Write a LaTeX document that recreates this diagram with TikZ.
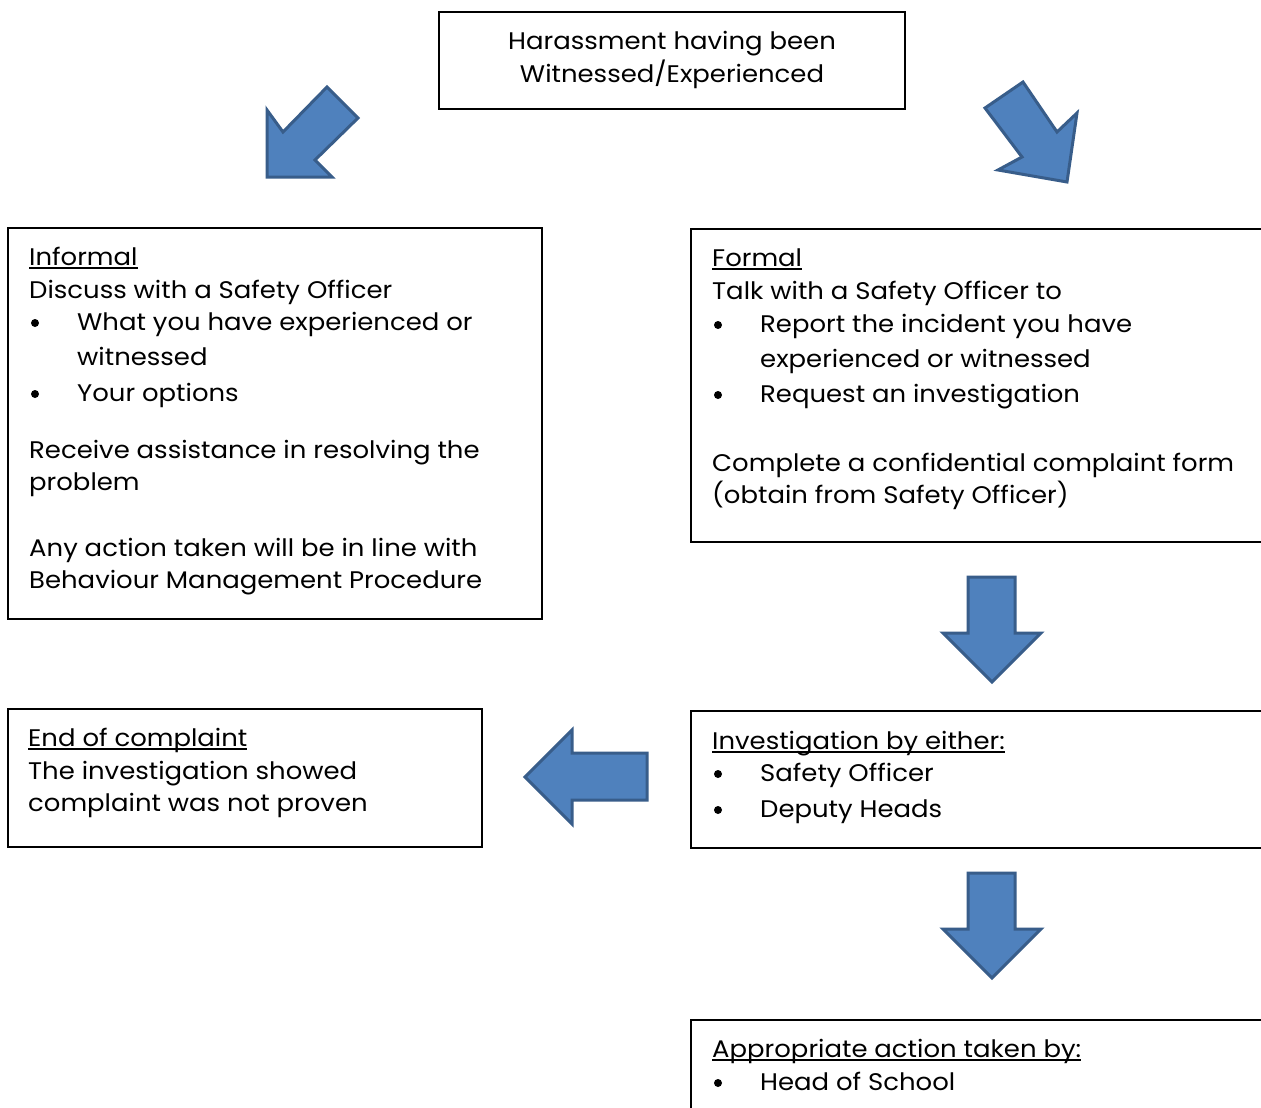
\documentclass[tikz,border=0pt]{standalone}
\usepackage{fontspec}
\setmainfont[FakeStretch=1.08]{Poppins}
\definecolor{arrowfill}{HTML}{4F81BD}
\definecolor{arrowline}{HTML}{385D8A}
\newcommand\ul[1]{\setbox0\hbox{#1}\rlap{\rule[-3.5pt]{\wd0}{1.3pt}}\box0}
\begin{document}
\begin{tikzpicture}[
	x=1pt, y=-1pt,
	font=\fontsize{24}{28}\selectfont,
	box/.style={draw=black, line width=1.2pt},
	ln/.style={anchor=base west, inner sep=0pt},
	mid/.style={anchor=base, inner sep=0pt},
	dot/.style={circle, fill=black, inner sep=0pt, minimum size=8pt},
	blk/.style={fill=arrowfill, draw=arrowline, line width=3pt, line join=miter},
	]
\path [use as bounding box, clip] (0,0) rectangle (1261,1108);
\fill [white] (0,0) rectangle (1261,1108);
% boxes
\draw [box] (439,12) rectangle (905,109);
\draw [box] (8,228) rectangle (542,619);
\draw [box] (691,229) rectangle (1290,542);
\draw [box] (8,709) rectangle (482,847);
\draw [box] (691,711) rectangle (1290,848);
\draw [box] (691,1020) rectangle (1290,1130);
% block arrows
\draw [blk] (267,110) -- (283,132) -- (327,87) -- (358,118) -- (315,160) -- (332,177) -- (267,177) -- cycle;
\draw [blk] (985,108) -- (1023,82) -- (1057,132) -- (1077,113) -- (1067,182) -- (998,170) -- (1022,157) -- cycle;
\draw [blk] (968,577) -- (1015,577) -- (1015,633) -- (1041,633) -- (992,682) -- (943,633) -- (968,633) -- cycle;
\draw [blk] (968,873) -- (1015,873) -- (1015,929) -- (1041,929) -- (992,978) -- (943,929) -- (968,929) -- cycle;
\draw [blk] (647,753) -- (572,753) -- (572,730) -- (525,777) -- (572,824) -- (572,800) -- (647,800) -- cycle;
% top
\node [mid] (top1) at (672,49) {Harassment having been};
\node [mid] (top2) at (672,82) {Witnessed/Experienced};
% informal
\node [ln] (inf1) at (29,265) {\ul{Informal}};
\node [ln] (inf2) at (29,298) {Discuss with a Safety Officer};
\node [dot] (infb1) at (35,323) {};
\node [ln] (inf3) at (77,330) {What you have experienced or};
\node [ln] (inf4) at (77,365) {witnessed};
\node [dot] (infb2) at (35,394) {};
\node [ln] (inf5) at (77,401) {Your options};
\node [ln] (inf6) at (29,458) {Receive assistance in resolving the};
\node [ln] (inf7) at (29,490) {problem};
\node [ln] (inf8) at (29,556) {Any action taken will be in line with};
\node [ln] (inf9) at (29,588) {Behaviour Management Procedure};
% formal
\node [ln] (frm1) at (712,266) {\ul{Formal}};
\node [ln] (frm2) at (712,299) {Talk with a Safety Officer to};
\node [dot] (frmb1) at (718,325) {};
\node [ln] (frm3) at (760,332) {Report the incident you have};
\node [ln] (frm4) at (760,367) {experienced or witnessed};
\node [dot] (frmb2) at (718,395) {};
\node [ln] (frm5) at (760,402) {Request an investigation};
\node [ln] (frm6) at (712,471) {Complete a confidential complaint form};
\node [ln] (frm7) at (712,503) {(obtain from Safety Officer)};
% end of complaint
\node [ln] (end1) at (28,746) {\ul{End of complaint}};
\node [ln] (end2) at (28,779) {The investigation showed};
\node [ln] (end3) at (28,811) {complaint was not proven};
% investigation
\node [ln] (inv1) at (712,749) {\ul{Investigation by either:}};
\node [dot] (invb1) at (718,774) {};
\node [ln] (inv2) at (760,781) {Safety Officer};
\node [dot] (invb2) at (718,810) {};
\node [ln] (inv3) at (760,817) {Deputy Heads};
% action
\node [ln] (act1) at (712,1057) {\ul{Appropriate action taken by:}};
\node [dot] (actb1) at (718,1083) {};
\node [ln] (act2) at (760,1090) {Head of School};
\end{tikzpicture}
\end{document}
